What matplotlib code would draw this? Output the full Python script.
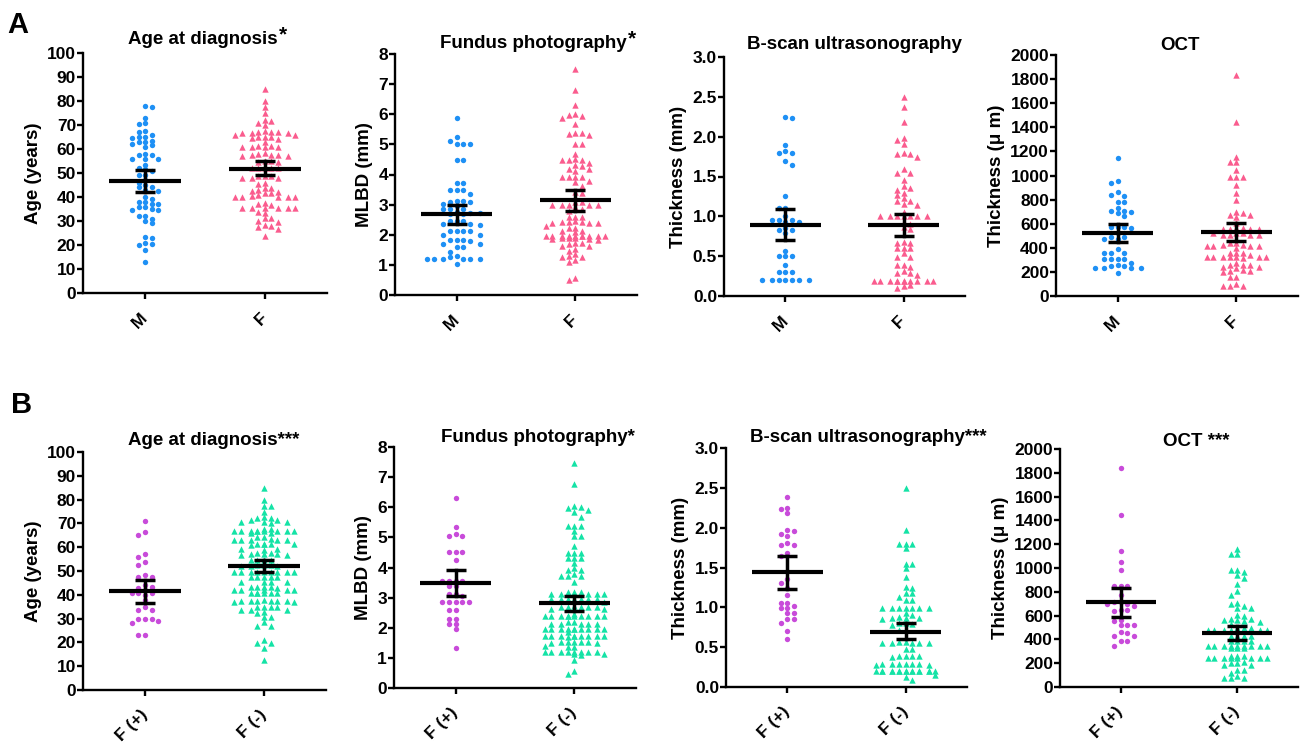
import matplotlib
matplotlib.use("Agg")
import matplotlib.pyplot as plt
import numpy as np

plt.rcParams['font.family'] = ['Liberation Sans', 'DejaVu Sans']
plt.rcParams['font.weight'] = 'bold'
plt.rcParams['axes.labelweight'] = 'bold'

# ---------------- data ----------------
# Panel A: male vs female
age_m = [78, 77.5, 73, 71, 70.5, 67.5, 67, 66, 65, 65, 64.5, 63.5, 63, 63, 62, 61.5, 61,
         58, 57.5, 57.5, 56, 56, 56, 53.5, 52, 51.5, 51, 49, 49, 47, 46, 45, 44, 44, 43,
         42.5, 40, 39, 38, 38, 37, 37, 36, 36, 35, 34.5, 34.5, 32, 32, 31, 30, 29, 23.5,
         23, 21, 20.5, 20, 18, 13]
age_f = [85, 80, 77.5, 75, 72, 71.5, 71, 70, 67.4, 67, 67, 66.6, 66.6, 66.6, 66, 66, 67,
         65, 65, 65, 64.6, 64, 63, 61.4, 61.4, 61, 61, 61, 61, 58.3, 58, 57.6, 57.6, 57.4,
         57, 57, 54.9, 54.9, 54.4, 54.4, 52, 52, 52, 52, 52, 48.6, 48.6, 48.6, 48, 48, 48,
         45.8, 45.5, 43.8, 43.8, 43, 42.4, 42, 41.7, 41.7, 41, 40.3, 40, 40, 40, 40, 40,
         37.5, 37.2, 36.8, 35.4, 35.4, 35.4, 35.4, 35.4, 35.4, 33.8, 33.3, 31.2, 31.2,
         29.9, 29.4, 28.2, 27.8, 27.5, 26.7, 23.6]
mlbd_m = [5.86, 5.24, 5.1, 5.02, 5.02, 5.0, 4.49, 4.49, 3.71, 3.71, 3.49, 3.47, 3.47, 3.36,
          3.13, 3.13, 3.1, 3.1, 3.02, 2.97, 2.86, 2.86, 2.86, 2.74, 2.71, 2.71, 2.69, 2.69,
          2.47, 2.47, 2.47, 2.36, 2.36, 2.33, 2.13, 2.13, 2.13, 2.13, 1.99, 1.99, 1.82,
          1.82, 1.82, 1.8, 1.69, 1.69, 1.58, 1.58, 1.44, 1.3, 1.27, 1.21, 1.19, 1.19, 1.19,
          1.19, 1.19, 1.02]
mlbd_f = [7.49, 6.8, 6.3, 6.02, 5.97, 5.93, 5.89, 5.69, 5.38, 5.38, 5.36, 5.3, 5.02, 5.02,
          4.69, 4.5, 4.49, 4.49, 4.47, 4.38, 4.3, 4.28, 4.19, 4.19, 4.13, 3.91, 3.91, 3.91,
          3.91, 3.8, 3.74, 3.63, 3.41, 3.38, 3.08, 3.08, 3.0, 3.0, 3.0, 3.0, 3.0, 2.91,
          2.86, 2.8, 2.6, 2.6, 2.6, 2.44, 2.41, 2.41, 2.41, 2.38, 2.38, 2.38, 2.3, 2.24,
          2.24, 2.13, 2.13, 2.08, 1.97, 1.97, 1.97, 1.97, 1.97, 1.97, 1.97, 1.97, 1.97,
          1.97, 1.89, 1.89, 1.89, 1.86, 1.86, 1.82, 1.71, 1.71, 1.69, 1.63, 1.63, 1.52,
          1.47, 1.36, 1.3, 1.27, 1.27, 1.16, 1.08, 0.55, 0.5]
bscan_m = [2.25, 2.23, 1.89, 1.82, 1.79, 1.79, 1.7, 1.65, 1.25, 1.1, 1.1, 1.0, 0.95, 0.95,
           0.95, 0.93, 0.93, 0.85, 0.83, 0.83, 0.79, 0.56, 0.5, 0.5, 0.5, 0.39, 0.3, 0.3,
           0.3, 0.2, 0.2, 0.2, 0.2, 0.2, 0.2, 0.2]
bscan_f = [2.5, 2.37, 2.18, 1.98, 1.96, 1.91, 1.79, 1.78, 1.78, 1.74, 1.59, 1.55, 1.55,
           1.46, 1.38, 1.35, 1.33, 1.29, 1.27, 1.23, 1.19, 1.19, 1.15, 1.14, 1.06, 1.0,
           1.0, 1.0, 1.0, 1.0, 1.0, 1.0, 0.93, 0.91, 0.87, 0.84, 0.68, 0.67, 0.66, 0.6,
           0.6, 0.6, 0.54, 0.49, 0.49, 0.39, 0.39, 0.37, 0.31, 0.29, 0.29, 0.26, 0.19,
           0.19, 0.19, 0.19, 0.19, 0.19, 0.19, 0.19, 0.19, 0.19, 0.19, 0.14, 0.13, 0.1]
oct_m = [1142, 954, 940, 866, 838, 830, 783, 783, 727, 705, 705, 700, 686, 664, 575, 575,
         575, 561, 520, 492, 487, 470, 470, 387, 354, 354, 354, 304, 304, 304, 304, 271,
         257, 249, 249, 230, 230, 230, 230, 188]
oct_f = [1834, 1441, 1156, 1115, 1115, 1046, 990, 990, 990, 918, 852, 797, 700, 686, 672,
         672, 658, 603, 561, 561, 553, 553, 553, 553, 520, 520, 520, 506, 506, 506, 506,
         442, 442, 423, 423, 415, 415, 415, 415, 395, 354, 354, 354, 340, 326, 326, 326,
         326, 326, 326, 326, 312, 271, 257, 257, 257, 243, 243, 230, 216, 210, 210, 202,
         155, 155, 100, 83, 83, 83]

# Panel B: F(+) vs F(-)
age_fpos = [71, 66.4, 65, 57, 56, 53.8, 52.4, 48.3, 47.6, 47.6, 44, 43.4, 42.7, 42, 40.6,
            40.6, 40.6, 39.9, 37.8, 35, 33.6, 33.6, 29.7, 29.7, 29.7, 29.1, 28.3, 23.1, 23.1]
age_fneg = [85, 80, 77.2, 77.2, 75, 72.7, 72.4, 72.4, 71.3, 71.3, 70.6, 70.6, 70.6, 70,
            67.8, 67.8, 66.9, 66.9, 66.9, 66.9, 66.9, 66.9, 66.9, 66.9, 66.9, 66, 66, 64.3,
            64.3, 63.6, 63.2, 63.2, 63.2, 63.2, 63.2, 61.3, 61.3, 61.3, 61.3, 61.3, 60.8,
            59.4, 59.4, 59, 57.6, 57.6, 57, 57, 57, 56.6, 56.6, 54.5, 54.5, 54.5, 54.5,
            52.4, 52.4, 52.4, 52, 52, 52, 49.7, 49.7, 49.7, 49.7, 49.7, 49.7, 49.7, 49.7,
            49.7, 47.6, 47.6, 47.3, 47.3, 47.3, 45.5, 45.5, 45.5, 45.5, 43.4, 43.1, 43.1,
            43.1, 42.7, 42.2, 42.2, 42.2, 42.2, 42.2, 40.6, 40.6, 40.6, 40.6, 40.6, 40.6,
            37.8, 37.5, 37.5, 37.5, 37.5, 37.5, 37.5, 37.1, 37.1, 35, 35, 35, 35, 33.6,
            33.6, 33.6, 32.9, 32.2, 30.8, 30.8, 28.7, 26.9, 26.9, 21, 19.9, 19.6, 17.5, 12.6]
mlbd_fpos = [6.3, 5.35, 5.1, 5.04, 5.04, 4.5, 4.5, 4.5, 4.24, 3.56, 3.56, 3.56, 3.56, 3.38,
             3.38, 3.12, 3.12, 3.07, 2.87, 2.87, 2.87, 2.87, 2.87, 2.6, 2.6, 2.3, 2.3, 2.14,
             2.14, 1.95, 1.34]
mlbd_fneg = [7.47, 6.77, 6.03, 6.0, 5.97, 5.9, 5.83, 5.68, 5.39, 5.39, 5.39, 5.2, 5.04,
             5.04, 4.71, 4.49, 4.49, 4.49, 4.33, 4.33, 4.33, 4.16, 4.0, 3.92, 3.92, 3.78,
             3.73, 3.73, 3.73, 3.51, 3.2, 3.18, 3.18, 3.12, 3.12, 3.12, 3.12, 3.12, 2.96,
             2.96, 2.96, 2.96, 2.96, 2.96, 2.96, 2.87, 2.72, 2.68, 2.68, 2.68, 2.68, 2.68,
             2.63, 2.63, 2.47, 2.39, 2.39, 2.39, 2.39, 2.39, 2.39, 2.39, 2.39, 2.39, 2.39,
             2.19, 2.19, 2.14, 2.14, 2.14, 2.14, 2.14, 1.97, 1.95, 1.95, 1.95, 1.95, 1.95,
             1.95, 1.95, 1.95, 1.95, 1.86, 1.73, 1.73, 1.73, 1.73, 1.73, 1.73, 1.73, 1.73,
             1.73, 1.7, 1.53, 1.53, 1.53, 1.53, 1.53, 1.48, 1.48, 1.4, 1.37, 1.37, 1.18,
             1.18, 1.18, 1.18, 1.18, 1.18, 1.18, 1.18, 1.12, 1.12, 1.1, 0.93, 0.55, 0.48]
bscan_fpos = [2.38, 2.25, 2.23, 2.18, 1.97, 1.96, 1.92, 1.89, 1.81, 1.78, 1.78, 1.68, 1.65,
              1.35, 1.3, 1.24, 1.15, 1.06, 1.06, 1.02, 0.99, 0.99, 0.93, 0.93, 0.85, 0.85,
              0.8, 0.7, 0.6]
bscan_fneg = [2.5, 1.97, 1.8, 1.8, 1.8, 1.74, 1.55, 1.54, 1.49, 1.38, 1.25, 1.24, 1.18,
              1.18, 1.13, 1.09, 1.09, 0.99, 0.99, 0.99, 0.99, 0.99, 0.99, 0.99, 0.93, 0.9,
              0.88, 0.87, 0.87, 0.86, 0.85, 0.8, 0.8, 0.79, 0.78, 0.72, 0.72, 0.57, 0.57,
              0.55, 0.55, 0.55, 0.55, 0.55, 0.48, 0.48, 0.39, 0.39, 0.39, 0.39, 0.38, 0.29,
              0.29, 0.29, 0.29, 0.29, 0.29, 0.28, 0.27, 0.2, 0.2, 0.2, 0.2, 0.2, 0.2, 0.2,
              0.2, 0.2, 0.2, 0.2, 0.2, 0.2, 0.2, 0.2, 0.2, 0.15, 0.13, 0.09]
oct_fpos = [1840, 1448, 1140, 1048, 980, 852, 852, 852, 776, 711, 711, 700, 700, 683, 650,
            650, 636, 566, 552, 524, 524, 524, 459, 454, 426, 426, 384, 384, 347]
oct_fneg = [1160, 1120, 1120, 986, 986, 964, 944, 913, 868, 804, 776, 706, 700, 683, 664,
            664, 608, 594, 571, 571, 566, 560, 552, 543, 532, 496, 496, 496, 482, 482, 482,
            482, 476, 476, 426, 426, 426, 426, 384, 384, 384, 384, 342, 342, 342, 342, 342,
            342, 342, 342, 342, 328, 328, 328, 258, 258, 258, 244, 244, 244, 244, 244, 244,
            244, 244, 207, 202, 202, 188, 188, 146, 146, 118, 95, 76, 76, 76]

# mean with 95% CI (mean, low, high) per group
age_stats_a = [(46.8, 42.1, 51.4), (51.8, 49.3, 54.9)]
mlbd_stats_a = [(2.68, 2.36, 3.0), (3.16, 2.8, 3.49)]
bscan_stats_a = [(0.89, 0.7, 1.09), (0.89, 0.75, 1.03)]
oct_stats_a = [(525, 445, 597), (528, 454, 603)]
age_stats_b = [(41.4, 36.6, 46.2), (52.2, 49.4, 54.8)]
mlbd_stats_b = [(3.48, 3.04, 3.91), (2.82, 2.55, 3.07)]
bscan_stats_b = [(1.44, 1.225, 1.645), (0.69, 0.6, 0.8)]
oct_stats_b = [(711, 588, 832), (454, 392, 510)]

labels_a = ['M', 'F']
labels_b = ['F (+)', 'F (-)']

W, H = 1300, 743
fig = plt.figure(figsize=(13, 7.43), dpi=100)


def swarm_offsets(vals, px_per_unit, step=3.3, dx_min=6.6, dy_min=4.6, cap=39):
    """Prism-like scatter: put each point at the free slot nearest the centre."""
    vals = np.asarray(vals, float)
    ys = vals * px_per_unit
    order = np.argsort(-vals)
    px, py = [], []
    xs = np.zeros(len(vals))
    kmax = int(cap // step)
    flip = 1
    for i in order:
        y = ys[i]
        cands = [0.0]
        for k in range(1, kmax + 1):
            cands += [-flip * k * step, flip * k * step]
        flip = -flip
        best, best_n, best_c = None, 10 ** 6, 0.0
        for c in cands:
            if px:
                hit = (np.abs(np.array(px) - c) < dx_min) & (np.abs(np.array(py) - y) < dy_min)
                n = int(hit.sum())
            else:
                n = 0
            if n == 0:
                best = c
                break
            if n < best_n:
                best_n, best_c = n, c
        if best is None:
            best = best_c
        xs[i] = best
        px.append(best)
        py.append(y)
    return xs


def draw_panel(box, groups, labels, colors, markers, stats, ylim, yticks, ylabel, yfmt):
    l, t, r, b = box
    ax = fig.add_axes([l / W, 1 - b / H, (r - l) / W, (b - t) / H])
    ax.set_xlim(-0.52, 1.52)
    ax.set_ylim(*ylim)
    px_y = (b - t) / (ylim[1] - ylim[0])
    px_x = (r - l) / 2.04
    for gi, vals in enumerate(groups):
        off = swarm_offsets(vals, px_y) / px_x
        ms = 15 if markers[gi] == 'o' else 21
        ax.scatter(gi + off, vals, s=ms, marker=markers[gi], color=colors[gi],
                   linewidths=0, zorder=2, clip_on=False)
        m, lo, hi = stats[gi]
        ax.plot([gi - 0.3, gi + 0.3], [m, m], color='black', lw=3,
                solid_capstyle='butt', zorder=3)
        ax.plot([gi, gi], [lo, hi], color='black', lw=2.5, zorder=3)
        for yy in (lo, hi):
            ax.plot([gi - 0.085, gi + 0.085], [yy, yy], color='black', lw=2.5,
                    solid_capstyle='butt', zorder=3)
    for s in ('top', 'right'):
        ax.spines[s].set_visible(False)
    for s in ('left', 'bottom'):
        ax.spines[s].set_linewidth(1.7)
    ax.set_yticks(yticks)
    ax.set_yticklabels([yfmt.format(v) for v in yticks])
    ax.set_xticks([0, 1])
    ax.set_xticklabels(labels, rotation=45, ha='right', va='center',
                       rotation_mode='anchor', fontsize=12.5)
    ax.tick_params(axis='y', width=1.7, length=4, labelsize=12.5, pad=1)
    ax.tick_params(axis='x', width=1.7, length=4, pad=12)
    ax.set_ylabel(ylabel, fontsize=13.5, labelpad=4)
    return ax


blue, pink = '#1E90F5', '#FA5C8E'
purple, green = '#C84BDA', '#14E3A6'

age_ticks = np.arange(0, 101, 10)
mlbd_ticks = np.arange(0, 9, 1)
bscan_ticks = np.arange(0, 3.01, 0.5)
oct_ticks = np.arange(0, 2001, 200)

row_a = [
    ((83, 53, 327, 293), [age_m, age_f], age_stats_a, (0, 100), age_ticks, 'Age (years)', '{:.0f}'),
    ((395, 54, 637, 295), [mlbd_m, mlbd_f], mlbd_stats_a, (0, 8), mlbd_ticks, 'MLBD (mm)', '{:.0f}'),
    ((724, 57, 965, 296), [bscan_m, bscan_f], bscan_stats_a, (0, 3), bscan_ticks, 'Thickness (mm)', '{:.1f}'),
    ((1056, 55, 1298, 296), [oct_m, oct_f], oct_stats_a, (0, 2000), oct_ticks, 'Thickness (μ m)', '{:.0f}'),
]
row_b = [
    ((83, 452, 326, 690), [age_fpos, age_fneg], age_stats_b, (0, 100), age_ticks, 'Age (years)', '{:.0f}'),
    ((394, 447, 636, 688), [mlbd_fpos, mlbd_fneg], mlbd_stats_b, (0, 8), mlbd_ticks, 'MLBD (mm)', '{:.0f}'),
    ((726, 448, 967, 687), [bscan_fpos, bscan_fneg], bscan_stats_b, (0, 3), bscan_ticks, 'Thickness (mm)', '{:.1f}'),
    ((1060, 449, 1298, 687), [oct_fpos, oct_fneg], oct_stats_b, (0, 2000), oct_ticks, 'Thickness (μ m)', '{:.0f}'),
]

for box, groups, stats, ylim, ticks, ylab, fmt in row_a:
    draw_panel(box, groups, labels_a, [blue, pink], ['o', '^'], stats, ylim, ticks, ylab, fmt)
for box, groups, stats, ylim, ticks, ylab, fmt in row_b:
    draw_panel(box, groups, labels_b, [purple, green], ['o', '^'], stats, ylim, ticks, ylab, fmt)

# titles (pixel centre x, baseline y)
titles_a = ['Age at diagnosis', 'Fundus photography', 'B-scan ultrasonography', 'OCT']
stars_a = ['*', '*', '', '']
title_x_a = [203, 533, 854, 1180]
title_y_a = [44, 48, 49, 50]
titles_b = ['Age at diagnosis***', 'Fundus photography*', 'B-scan ultrasonography***', 'OCT ***']
title_x_b = [214, 538, 868, 1196]
title_y_b = [445, 442, 442, 446]

for txt, star, x, y in zip(titles_a, stars_a, title_x_a, title_y_a):
    t = fig.text(x / W, 1 - y / H, txt, ha='center', va='baseline', fontsize=13.5)
    if star:
        plt.annotate(star, xy=(1, 1), xycoords=t, xytext=(1, 4), textcoords='offset points',
                     ha='left', va='top', fontsize=15)
for txt, x, y in zip(titles_b, title_x_b, title_y_b):
    fig.text(x / W, 1 - y / H, txt, ha='center', va='baseline', fontsize=13.5)

fig.text(7 / W, 1 - 33 / H, 'A', fontsize=21, ha='left', va='baseline')
fig.text(11 / W, 1 - 413 / H, 'B', fontsize=21, ha='left', va='baseline')

fig.savefig('out.png', dpi=100)
